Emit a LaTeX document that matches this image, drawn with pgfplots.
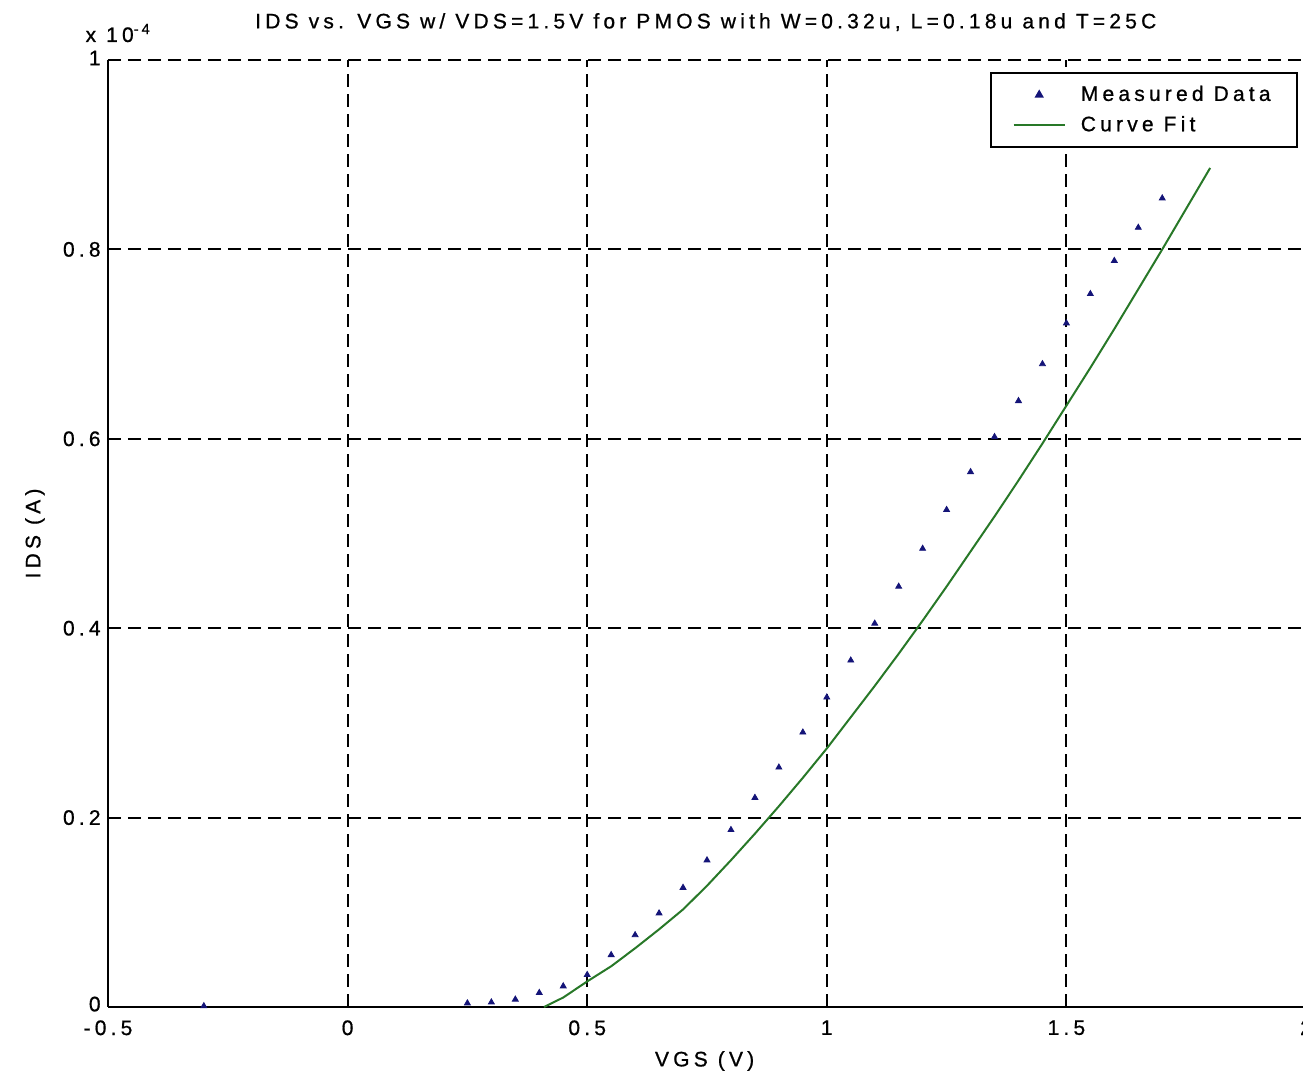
\documentclass[border=0pt]{standalone}
\usepackage{fontspec}
\setmainfont{Liberation Sans}[LetterSpace=20, FakeBold=0.8]
\usepackage{pgfplots}
\pgfplotsset{compat=1.18}
\definecolor{mk}{RGB}{20,20,120}
\definecolor{fit}{RGB}{40,120,40}
\newcommand{\tf}{\fontsize{10.5}{12.5}\selectfont}
\begin{document}
\tf
\begin{tikzpicture}
\begin{axis}[
  at={(0,0)}, anchor=south west,
  scale only axis, width=599pt, height=473.5pt,
  xmin=-0.5, xmax=2, ymin=0, ymax=1,
  xtick={-0.5,0,0.5,1,1.5,2},
  ytick={0,0.2,0.4,0.6,0.8,1},
  xticklabels={-0.5,0,0.5,1,1.5,2},
  yticklabels={\raisebox{3pt}{0},0.2,0.4,0.6,0.8,\raisebox{2pt}{1}},
  axis x line*=bottom, axis y line*=left,
  axis line style={line width=1.2pt,-},
  tick align=inside, major tick length=4pt,
  tick style={line width=1pt,black},
  grid=major,
  major grid style={black, line width=1pt, dash pattern=on 6.5pt off 3.5pt},
  /pgf/number format/assume math mode=true,
  tick label style={font=\tf},
  xticklabel style={yshift=-3pt},
  every axis title shift=0pt,
  title={IDS vs. VGS w/ VDS=1.5V for PMOS with W=0.32u, L=0.18u and T=25C},
  title style={at={(axis description cs:0.499,1.040)}, anchor=center, font=\tf},
  xlabel={VGS (V)},
  ylabel={IDS (A)},
  xlabel style={at={(axis description cs:0.498,-0.057)}, anchor=center, font=\tf},
  ylabel style={at={(axis description cs:-0.061,0.5)}, anchor=center, rotate=0, font=\tf},
  legend style={at={(axis description cs:0.993,0.987)}, anchor=north east,
     draw=black, line width=1pt, fill=white, inner xsep=11pt, inner ysep=4.2pt,
     font=\tf, row sep=2pt,
     /tikz/every odd column/.append style={column sep=5.5pt}},
  legend cell align=left,
  legend image code/.code={\draw[mark repeat=2,mark phase=2,#1] plot coordinates {(0cm,0cm) (0.45cm,0cm) (0.9cm,0cm)};},
  clip=false,
]
\addplot[only marks, mark=triangle*, mark size=1.7pt, color=mk] coordinates {
(-0.3,0.001) (0.25,0.004) (0.3,0.005) (0.35,0.008) (0.4,0.015) (0.45,0.022)
(0.5,0.034) (0.55,0.055) (0.6,0.076) (0.65,0.099) (0.7,0.126) (0.75,0.155)
(0.8,0.187) (0.85,0.221) (0.9,0.253) (0.95,0.290) (1.0,0.327) (1.05,0.366)
(1.1,0.405) (1.15,0.444) (1.2,0.484) (1.25,0.525) (1.3,0.565) (1.35,0.602)
(1.4,0.640) (1.45,0.679) (1.5,0.722) (1.55,0.753) (1.6,0.788) (1.65,0.823)
(1.7,0.854)
};
\addlegendentry{Measured Data}
\addplot[color=fit, line width=1pt, no marks] coordinates {
(0.41,0) (0.45,0.010) (0.5,0.027) (0.55,0.043) (0.6,0.062) (0.65,0.082)
(0.7,0.103) (0.75,0.128) (0.8,0.155) (0.85,0.183) (0.9,0.212) (0.95,0.242)
(1.0,0.273) (1.05,0.306) (1.1,0.339) (1.15,0.373) (1.2,0.408) (1.25,0.444)
(1.3,0.481) (1.35,0.518) (1.4,0.556) (1.45,0.595) (1.5,0.635) (1.55,0.675)
(1.6,0.716) (1.65,0.758) (1.7,0.800) (1.75,0.843) (1.8,0.886)
};
\addlegendentry{Curve Fit}
\node[anchor=base west, font=\tf, inner sep=0pt] at (axis description cs:-0.019,1.019) {x 10\textsuperscript{-4}};
\end{axis}
\pgfresetboundingbox
\path[use as bounding box] (-54pt,-36.5pt) rectangle (597.5pt,503.5pt);
\end{tikzpicture}
\end{document}
